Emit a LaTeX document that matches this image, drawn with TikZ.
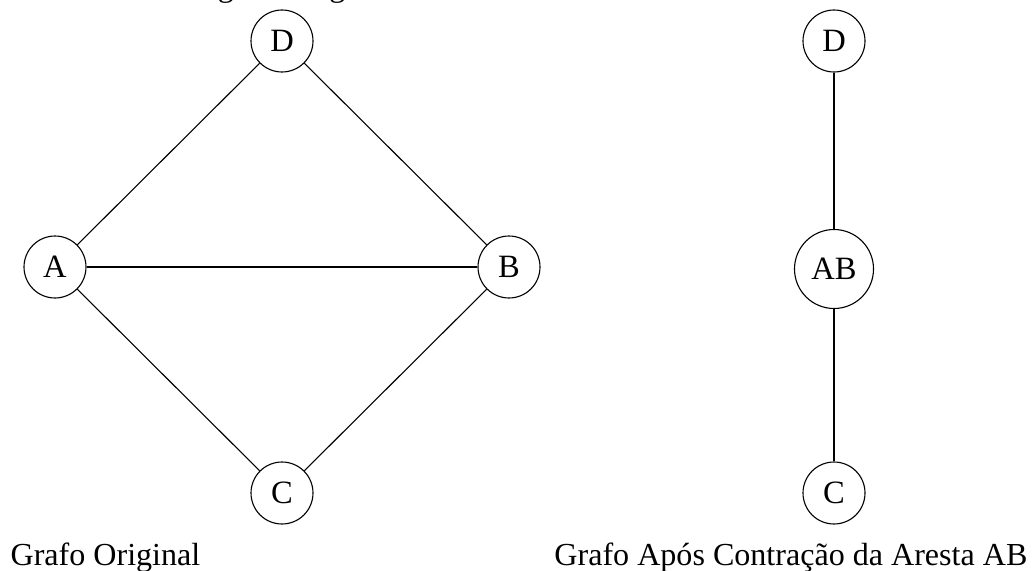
\documentclass[tikz,border=0pt]{standalone}
\usepackage{fontspec}
\setmainfont{Liberation Serif}
\begin{document}
\begin{tikzpicture}[x=0.3165pt,y=-0.3165pt,
  vtx/.style={circle,draw,line width=0.35pt,minimum size=62*0.3165pt,inner sep=0pt,font=\fontsize{10.3}{12}\selectfont},
  bigvtx/.style={vtx,minimum size=79*0.3165pt},
  edge/.style={line width=0.35pt},
  lbl/.style={inner sep=0pt,font=\fontsize{10.15}{12}\selectfont}]
\useasboundingbox (0,0) rectangle (1033,570);
% left graph
\node[vtx] (D) at (282,41) {D};
\node[vtx] (A) at (55,267) {A};
\node[vtx] (B) at (509,267) {B};
\node[vtx] (C) at (282,493) {C};
\draw[edge] (A) -- (D);
\draw[edge] (D) -- (B);
\draw[edge] (A) -- (B);
\draw[edge] (A) -- (C);
\draw[edge] (B) -- (C);
% right graph
\node[vtx] (D2) at (834,41) {D};
\node[bigvtx] (AB) at (834,269) {AB};
\node[vtx] (C2) at (834,493) {C};
\draw[edge] (D2) -- (AB);
\draw[edge] (AB) -- (C2);
% captions
\node[lbl,anchor=base west] (cap1) at (10,565) {Grafo Original};
\node[lbl,anchor=base east] (cap2) at (1028,565) {Grafo Após Contração da Aresta AB};
\node[lbl,anchor=base east] (title) at (394,-4) {Contração de aresta num grafo original};
\end{tikzpicture}
\end{document}
